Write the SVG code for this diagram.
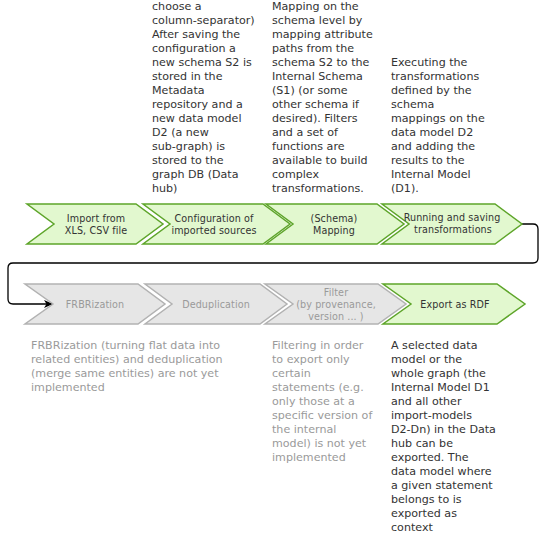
<svg xmlns="http://www.w3.org/2000/svg" width="549" height="534" viewBox="0 0 549 534">
<defs>
<style>
.g{fill:#e2f8cf;stroke:#5ea52a;stroke-width:1.5}
.x{fill:#e6e6e6;stroke:#b2b2b2;stroke-width:1.5}
.lb{font-family:"DejaVu Sans",Verdana,sans-serif;font-size:9.6px;text-anchor:middle;letter-spacing:0.1px}
.lg{fill:#333333}
.lx{fill:#9a9a9a}
.d{font-family:"DejaVu Sans",Verdana,sans-serif;font-size:11.1px}
.dd{fill:#333333}
.dx{fill:#9a9a9a}
</style>
<marker id="ah" markerWidth="10" markerHeight="8" refX="9" refY="4" orient="auto" markerUnits="userSpaceOnUse">
<path d="M0,0 L9,4 L0,8 L2.5,4 Z" fill="#000"/>
</marker>
</defs>
<rect width="549" height="534" fill="#ffffff"/>

<g id="connectors">
<path d="M522,224 H533 Q538,224 538,229 V258 Q538,263 533,263 H13 Q8,263 8,268 V299 Q8,304 13,304 H53" fill="none" stroke="#000" stroke-width="1.3" marker-end="url(#ah)"/>
</g>

<g id="import">
<polygon class="g" points="27,204 136,204 163,224 136,244 27,244 54,224"/>
<text class="lb lg" x="96" y="222">Import from</text>
<text class="lb lg" x="96" y="234">XLS, CSV file</text>
</g>
<g id="configuration">
<polygon class="g" points="143,204 263,204 290,224 263,244 143,244 170,224"/>
<text class="lb lg" x="214" y="222">Configuration of</text>
<text class="lb lg" x="214" y="234">imported sources</text>
</g>
<g id="mapping">
<polygon class="g" points="266,204 377,204 404,224 377,244 266,244 293,224"/>
<text class="lb lg" x="334" y="222">(Schema)</text>
<text class="lb lg" x="334" y="234">Mapping</text>
</g>
<g id="running">
<polygon class="g" points="382,204 495,204 522,224 495,244 382,244 409,224"/>
<text class="lb lg" x="452" y="221">Running and saving</text>
<text class="lb lg" x="453" y="233">transformations</text>
</g>

<g id="frbrization">
<polygon class="x" points="25,284 138,284 165,304 138,324 25,324 53,304"/>
<text class="lb lx" x="95" y="308">FRBRization</text>
</g>
<g id="deduplication">
<polygon class="x" points="145,284 260,284 287,304 260,324 145,324 172,304"/>
<text class="lb lx" x="216" y="308">Deduplication</text>
</g>
<g id="filter">
<polygon class="x" points="265,284 378,284 406,304 378,324 265,324 293,304"/>
<text class="lb lx" x="336" y="296">Filter</text>
<text class="lb lx" x="336" y="308">(by provenance,</text>
<text class="lb lx" x="336" y="320">version ... )</text>
</g>
<g id="export">
<polygon class="g" points="383,284 497,284 525,304 497,324 383,324 411,304"/>
<text class="lb lg" x="455" y="308">Export as RDF</text>
</g>

<g id="desc-configuration">
<text class="d dd" x="152" y="10">choose a</text>
<text class="d dd" x="152" y="24">column-separator)</text>
<text class="d dd" x="152" y="38"> After saving the</text>
<text class="d dd" x="152" y="52">configuration a</text>
<text class="d dd" x="152" y="66">new schema S2 is</text>
<text class="d dd" x="152" y="80">stored in the</text>
<text class="d dd" x="152" y="94">Metadata</text>
<text class="d dd" x="152" y="108">repository and a</text>
<text class="d dd" x="152" y="122">new data model</text>
<text class="d dd" x="152" y="136">D2 (a new</text>
<text class="d dd" x="152" y="150">sub-graph) is</text>
<text class="d dd" x="152" y="164">stored to the</text>
<text class="d dd" x="152" y="178">graph DB (Data</text>
<text class="d dd" x="152" y="192">hub)</text>
</g>
<g id="desc-mapping">
<text class="d dd" x="272" y="10">Mapping on the</text>
<text class="d dd" x="272" y="24">schema level by</text>
<text class="d dd" x="272" y="38">mapping attribute</text>
<text class="d dd" x="272" y="52">paths from the</text>
<text class="d dd" x="272" y="66">schema S2 to the</text>
<text class="d dd" x="272" y="80">Internal Schema</text>
<text class="d dd" x="272" y="94">(S1) (or some</text>
<text class="d dd" x="272" y="108">other schema if</text>
<text class="d dd" x="272" y="122">desired). Filters</text>
<text class="d dd" x="272" y="136">and a set of</text>
<text class="d dd" x="272" y="150">functions are</text>
<text class="d dd" x="272" y="164">available to build</text>
<text class="d dd" x="272" y="178">complex</text>
<text class="d dd" x="272" y="192">transformations.</text>
</g>
<g id="desc-running">
<text class="d dd" x="391" y="66">Executing the</text>
<text class="d dd" x="391" y="80">transformations</text>
<text class="d dd" x="391" y="94">defined by the</text>
<text class="d dd" x="391" y="108">schema</text>
<text class="d dd" x="391" y="122">mappings on the</text>
<text class="d dd" x="391" y="136">data model D2</text>
<text class="d dd" x="391" y="150">and adding the</text>
<text class="d dd" x="391" y="164">results to the</text>
<text class="d dd" x="391" y="178">Internal Model</text>
<text class="d dd" x="391" y="192">(D1).</text>
</g>
<g id="desc-frbr">
<text class="d dx" x="31" y="349">FRBRization (turning flat data into</text>
<text class="d dx" x="31" y="363">related entities) and deduplication</text>
<text class="d dx" x="31" y="377">(merge same entities) are not yet</text>
<text class="d dx" x="31" y="391">implemented</text>
</g>
<g id="desc-filter">
<text class="d dx" x="272" y="349">Filtering in order</text>
<text class="d dx" x="272" y="363">to export only</text>
<text class="d dx" x="272" y="377">certain</text>
<text class="d dx" x="272" y="391">statements (e.g.</text>
<text class="d dx" x="272" y="405">only those at a</text>
<text class="d dx" x="272" y="419">specific version of</text>
<text class="d dx" x="272" y="433">the internal</text>
<text class="d dx" x="272" y="447">model) is not yet</text>
<text class="d dx" x="272" y="461">implemented</text>
</g>
<g id="desc-export">
<text class="d dd" x="391" y="349">A selected data</text>
<text class="d dd" x="391" y="363">model or the</text>
<text class="d dd" x="391" y="377">whole graph (the</text>
<text class="d dd" x="391" y="391">Internal Model D1</text>
<text class="d dd" x="391" y="405">and all other</text>
<text class="d dd" x="391" y="419">import-models</text>
<text class="d dd" x="391" y="433">D2-Dn) in the Data</text>
<text class="d dd" x="391" y="447">hub can be</text>
<text class="d dd" x="391" y="461">exported. The</text>
<text class="d dd" x="391" y="475">data model where</text>
<text class="d dd" x="391" y="489">a given statement</text>
<text class="d dd" x="391" y="503">belongs to is</text>
<text class="d dd" x="391" y="517">exported as</text>
<text class="d dd" x="391" y="531">context</text>
</g>
</svg>
